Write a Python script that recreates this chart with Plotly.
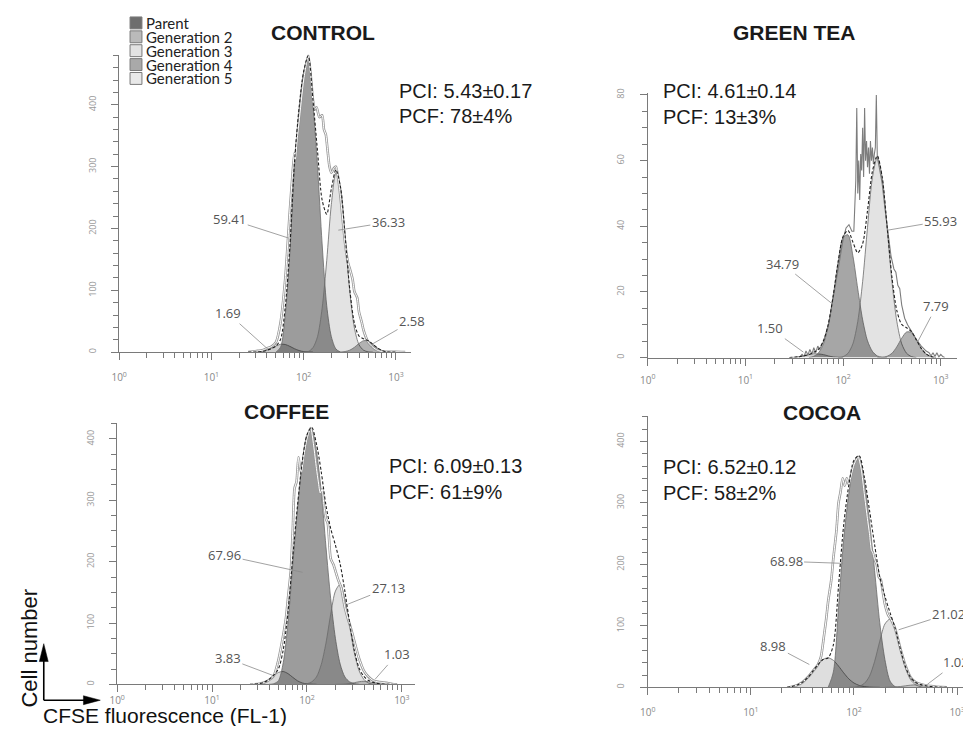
import plotly.graph_objects as go

# ---------------- data ----------------
# shared FL-1 channel grid for the fitted generation peaks
FL1 = [22.4, 25.1, 28.2, 31.6, 35.5, 39.8, 44.7, 50.1, 56.2, 63.1, 70.8, 79.4,
       89.1, 100, 112.2, 125.9, 141.3, 158.5, 177.8, 199.5, 223.9, 251.2, 281.8,
       316.2, 354.8, 398.1, 446.7, 501.2, 562.3, 631.0, 707.9, 794.3, 891.3, 1000, 1122]

PANEL_TITLES = ["CONTROL", "GREEN TEA", "COFFEE", "COCOA"]
PCI_TEXT = ["PCI: 5.43±0.17", "PCI: 4.61±0.14", "PCI: 6.09±0.13", "PCI: 6.52±0.12"]
PCF_TEXT = ["PCF: 78±4%", "PCF: 13±3%", "PCF: 61±9%", "PCF: 58±2%"]
LEGEND_NAMES = ["Parent", "Generation 2", "Generation 3", "Generation 4", "Generation 5"]
X_TICK_VALUES = [1, 10, 100, 1000]
X_TICK_LABELS = ["10<sup>0</sup>", "10<sup>1</sup>", "10<sup>2</sup>", "10<sup>3</sup>"]

# CONTROL
ctrl_pct = ["1.69", "59.41", "36.33", "2.58"]
ctrl_peak_1 = [0, 0, 0.1, 0.3, 1.2, 3, 6, 10, 12.7, 12.4, 9.4, 5.6, 2.6, 0.9, 0.3,
               0, 0, 0, 0, 0, 0, 0, 0, 0, 0, 0, 0, 0, 0, 0, 0, 0, 0, 0, 0]
ctrl_peak_2 = [0, 0, 0, 0, 0, 0, 0, 0, 8, 60, 160, 300, 392, 453, 478, 402, 300, 175,
               75, 25, 5, 0, 0, 0, 0, 0, 0, 0, 0, 0, 0, 0, 0, 0, 0]
ctrl_peak_3 = [0, 0, 0, 0, 0, 0, 0, 0, 0, 0, 0, 0, 0, 0, 1, 7, 25, 71, 148, 239, 290,
               266, 186, 98, 39, 12, 3, 0.5, 0, 0, 0, 0, 0, 0, 0]
ctrl_peak_4 = [0, 0, 0, 0, 0, 0, 0, 0, 0, 0, 0, 0, 0, 0, 0, 0, 0, 0, 0, 0, 0, 0.2, 1,
               3.2, 7.8, 14, 18.5, 18, 12.8, 6.7, 2.6, 0.7, 0.1, 0, 0]
ctrl_raw_x = [25.1, 28.2, 31.6, 35.5, 39.8, 44.7, 50.1, 56.2, 63.1, 70.8, 75.9, 79.4,
              81.3, 85.1, 89.1, 100, 112.2, 120.2, 125.9, 131.8, 138.0, 147.9, 158.5,
              166.0, 173.8, 182.0, 190.5, 199.5, 213.8, 223.9, 239.9, 251.2, 281.8,
              302.0, 316.2, 338.8, 354.8, 380.2, 398.1, 426.6, 446.7, 501.2, 562.3,
              631.0, 707.9, 794.3, 1000, 1259]
ctrl_raw_y = [0, 1, 2, 3, 6, 9, 16, 48, 118, 228, 290, 322, 312, 345, 372, 440, 480,
              442, 408, 392, 396, 380, 383, 360, 352, 325, 300, 290, 298, 300, 275,
              250, 175, 145, 135, 118, 98, 88, 65, 48, 35, 16, 8, 3, 1, 0.5, 0.5, 0]

# GREEN TEA
tea_pct = ["1.50", "34.79", "55.93", "7.79"]
tea_peak_1 = [0, 0, 0, 0.1, 0.3, 0.6, 0.9, 1.2, 1.1, 0.9, 0.5, 0.2, 0.1,
              0, 0, 0, 0, 0, 0, 0, 0, 0, 0, 0, 0, 0, 0, 0, 0, 0, 0, 0, 0, 0, 0]
tea_peak_2 = [0, 0, 0, 0, 0, 0, 0, 0.4, 1.5, 4.3, 9.9, 18.9, 29.2, 36.6, 37.4, 31,
              20.9, 11.5, 5.1, 1.9, 0.5, 0.1, 0, 0, 0, 0, 0, 0, 0, 0, 0, 0, 0, 0, 0]
tea_peak_3 = [0, 0, 0, 0, 0, 0, 0, 0, 0, 0, 0, 0, 0, 0.3, 1.3, 4.2, 11, 23.2, 39.7,
              54.8, 61, 54.8, 39.7, 23.2, 11, 4.2, 1.3, 0.3, 0, 0, 0, 0, 0, 0, 0]
tea_peak_4 = [0, 0, 0, 0, 0, 0, 0, 0, 0, 0, 0, 0, 0, 0, 0, 0, 0, 0, 0, 0, 0, 0.1,
              0.4, 1.3, 3.3, 5.9, 7.8, 7.6, 5.4, 2.8, 1.1, 0.3, 0, 0, 0]
tea_raw_x = [35.5, 38.0, 39.8, 41.7, 43.7, 45.7, 47.9, 50.1, 52.5, 55.0, 57.5, 60.3,
             63.1, 70.8, 79.4, 89.1, 100, 107.2, 114.8, 123.0, 128.8, 131.8, 134.9,
             138.0, 141.3, 144.5, 147.9, 151.4, 154.9, 158.5, 162.2, 166.0, 169.8,
             173.8, 177.8, 182.0, 186.2, 190.5, 195.0, 199.5, 204.2, 208.9, 213.8,
             218.8, 223.9, 234.4, 251.2, 269.2, 288.4, 309.0, 331.1, 346.7, 363.1,
             380.2, 398.1, 426.6, 457.1, 501.2, 562.3, 631.0, 707.9, 758.6, 794.3,
             831.8, 871.0, 912.0, 955.0, 1000, 1047, 1096]
tea_raw_y = [0, 1, 0.3, 2, 0.8, 2.5, 1, 3, 1.5, 3.5, 2.5, 4, 5, 10, 18, 27, 36, 39.5,
             40.5, 38.5, 38.5, 45, 54, 76, 50, 60, 48, 62, 57, 70, 55, 76, 60, 66, 58,
             64, 56, 66, 60, 64, 59, 62, 64, 80, 61, 58, 53, 45, 37, 31, 27, 26, 22,
             21, 16, 12, 10, 8, 5.5, 3.5, 2, 1.5, 0.5, 1.5, 0.3, 1.5, 0.2, 1, 0.3, 0]

# COFFEE
cof_pct = ["3.83", "67.96", "27.13", "1.03"]
cof_peak_1 = [0, 0, 0.3, 1.2, 3.4, 7.9, 14, 19.4, 20.9, 17.5, 11.5, 5.8, 2.3, 0.7, 0.2,
              0, 0, 0, 0, 0, 0, 0, 0, 0, 0, 0, 0, 0, 0, 0, 0, 0, 0, 0, 0]
cof_peak_2 = [0, 0, 0, 0, 0, 0, 1, 6, 35, 100, 195, 285, 360, 405, 415, 380, 315, 225,
              140, 75, 33, 12, 4, 1, 0, 0, 0, 0, 0, 0, 0, 0, 0, 0, 0]
cof_peak_3 = [0, 0, 0, 0, 0, 0, 0, 0, 0, 0, 0, 0, 0, 1, 4, 12, 32, 67, 114, 152, 163,
              139, 95, 51, 22, 8, 2, 0.5, 0, 0, 0, 0, 0, 0, 0]
cof_peak_4 = [0, 0, 0, 0, 0, 0, 0, 0, 0, 0, 0, 0, 0, 0, 0, 0, 0, 0, 0, 0, 0.1, 0.4,
              1.2, 2.7, 4.3, 5, 4.3, 2.7, 1.2, 0.4, 0.1, 0, 0, 0, 0]
cof_raw_x = [28.2, 31.6, 35.5, 39.8, 44.7, 50.1, 56.2, 60.3, 63.1, 67.6, 70.8, 74.1,
             77.6, 81.3, 83.2, 87.1, 93.3, 100, 109.6, 117.5, 125.9, 131.8, 138.0,
             144.5, 151.4, 158.5, 166.0, 177.8, 190.5, 199.5, 213.8, 229.1, 251.2,
             269.2, 281.8, 302.0, 316.2, 354.8, 398.1, 446.7, 501.2, 562.3, 631.0,
             707.9, 794.3, 891.3]
cof_raw_y = [0, 1, 3, 7, 14, 40, 80, 110, 140, 185, 250, 320, 330, 370, 360, 345, 375,
             400, 418, 390, 352, 330, 312, 318, 290, 270, 262, 205, 195, 185, 170, 158,
             125, 108, 98, 82, 70, 42, 22, 12, 6, 4, 3, 2, 0.5, 0]

# COCOA
coc_pct = ["8.98", "68.98", "21.02", "1.02"]
coc_peak_1 = [0, 1.4, 3.6, 8.1, 15.6, 25.8, 36.8, 45.2, 48, 43.9, 34.6, 23.6, 13.8, 7,
              3.1, 1.2, 0.4, 0.1, 0, 0, 0, 0, 0, 0, 0, 0, 0, 0, 0, 0, 0, 0, 0, 0, 0]
coc_peak_2 = [0, 0, 0, 0, 0, 0, 0, 0, 0, 25, 130, 240, 315, 362, 372, 335, 270, 190,
              105, 45, 10, 1, 0, 0, 0, 0, 0, 0, 0, 0, 0, 0, 0, 0, 0]
coc_peak_3 = [0, 0, 0, 0, 0, 0, 0, 0, 0, 0, 0, 0, 0, 0.3, 1.7, 6.3, 18, 42, 75, 103,
              111, 94, 61, 31, 12, 3.8, 0.9, 0.2, 0, 0, 0, 0, 0, 0, 0]
coc_peak_4 = [0, 0, 0, 0, 0, 0, 0, 0, 0, 0, 0, 0, 0, 0, 0, 0, 0, 0, 0, 0, 0.2, 0.5,
              1.3, 2.4, 3.5, 4, 3.5, 2.4, 1.3, 0.5, 0.2, 0, 0, 0, 0]
coc_raw_x = [24.0, 25.1, 28.2, 31.6, 35.5, 39.8, 44.7, 47.9, 51.3, 53.7, 56.2, 60.3,
             63.1, 67.6, 70.8, 74.1, 77.6, 81.3, 85.1, 89.1, 95.5, 100, 109.6, 117.5,
             125.9, 134.9, 141.3, 147.9, 151.4, 158.5, 166.0, 173.8, 182.0, 190.5,
             199.5, 213.8, 229.1, 251.2, 281.8, 316.2, 354.8, 398.1, 446.7, 501.2,
             562.3, 631.0, 707.9, 794.3]
coc_raw_y = [0, 1, 3.6, 8, 16, 26, 37, 50, 85, 110, 140, 175, 210, 255, 300, 318, 340,
             328, 340, 330, 350, 362, 375, 355, 315, 275, 250, 222, 220, 208, 200, 180,
             175, 155, 135, 118, 110, 95, 63, 35, 16, 8, 5, 3, 2, 1, 0.5, 0]

# ---------------- layout helpers ----------------
# the page body keeps an 8 px margin, so the figure is sized to fit inside the window
OFF = 8
W, H = 971 - OFF, 734 - 2 * OFF


def px(x):
    return (x - OFF) / W


def py(y):
    return 1 - (y - OFF) / H


panels = [
    dict(peaks=[ctrl_peak_1, ctrl_peak_2, ctrl_peak_3, ctrl_peak_4], pct=ctrl_pct,
         alphas=[0.2, 0.39, 0.11, 0.3], raw_x=ctrl_raw_x, raw_y=ctrl_raw_y, raw_shape="spline",
         hollow=True, xlab_off=9,
         xdom=(112, 406), xmax=3.16, ydom=(50, 350), ymax=481, ymaj=100, ymin=20,
         title_xy=(318, 28), pci_xy=(392, 87), pcf_dy=25,
         lab=[((222, 311), (262, 347)), ((224, 216), (283, 235)),
              ((383, 219), (333, 227)), ((407, 319), (367, 342))]),
    dict(peaks=[tea_peak_1, tea_peak_2, tea_peak_3, tea_peak_4], pct=tea_pct,
         alphas=[0.2, 0.35, 0.11, 0.3], raw_x=tea_raw_x, raw_y=tea_raw_y, raw_shape="linear",
         hollow=False, xlab_off=6,
         xdom=(645, 957), xmax=3.167, ydom=(89, 355.5), ymax=80.5, ymaj=20, ymin=5,
         title_xy=(793, 28), pci_xy=(658, 87), pcf_dy=26,
         lab=[((769, 326), (802, 350)), ((781, 261), (832, 302)),
              ((940, 218), (887, 227)), ((936, 304), (917, 340))]),
    dict(peaks=[cof_peak_1, cof_peak_2, cof_peak_3, cof_peak_4], pct=cof_pct,
         alphas=[0.14, 0.39, 0.12, 0.18], raw_x=cof_raw_x, raw_y=cof_raw_y, raw_shape="spline",
         hollow=True, xlab_off=0,
         xdom=(110, 410), xmax=3.135, ydom=(421.5, 685), ymax=426, ymaj=100, ymin=25,
         title_xy=(281, 410), pci_xy=(382, 465), pcf_dy=26,
         lab=[((222, 659), (267, 676)), ((219, 555), (297, 572)),
              ((383, 588), (343, 604)), ((392, 655), (370, 680))]),
    dict(peaks=[coc_peak_1, coc_peak_2, coc_peak_3, coc_peak_4], pct=coc_pct,
         alphas=[0.13, 0.38, 0.11, 0.13], raw_x=coc_raw_x, raw_y=coc_raw_y, raw_shape="spline",
         hollow=True, xlab_off=9,
         xdom=(645, 970), xmax=3.125, ydom=(414, 688), ymax=442, ymaj=100, ymin=20,
         title_xy=(821, 411), pci_xy=(658, 466), pcf_dy=26,
         lab=[((772, 646), (808, 665)), ((785, 561), (842, 563)),
              ((948, 614), (898, 630)), ((956, 663), (927, 685))]),
]

fig = go.Figure()
layout = dict(width=W, height=H, margin=dict(l=0, r=0, t=0, b=0),
              paper_bgcolor="white", plot_bgcolor="white", showlegend=False,
              font=dict(family="Open Sans, Arial", color="#333"))
annotations = []
shapes = []

minor_x = [m * d for d in (1, 10, 100) for m in range(2, 10)] + [2000]

for i, p in enumerate(panels):
    n = "" if i == 0 else str(i + 1)
    xa, ya = "x" + n, "y" + n

    def trim(vals):
        nz = [k for k, v in enumerate(vals) if v > 0]
        a, b = max(nz[0] - 1, 0), min(nz[-1] + 1, len(vals) - 1)
        return FL1[a:b + 1], vals[a:b + 1]

    # fitted generation peaks
    for pk, a, name in zip(p["peaks"], p["alphas"], p["pct"]):
        xs, ys = trim(pk)
        fig.add_trace(go.Scatter(x=xs, y=ys, mode="lines", fill="tozeroy",
                                 fillcolor=f"rgba(0,0,0,{a})", name=name,
                                 line=dict(color="#6a6a6a", width=0.8, shape="spline", smoothing=0.8),
                                 xaxis=xa, yaxis=ya, hoverinfo="skip"))
    # raw histogram
    if p["hollow"]:
        fig.add_trace(go.Scatter(x=p["raw_x"], y=p["raw_y"], mode="lines",
                                 line=dict(color="#979797", width=2.6, shape=p["raw_shape"], smoothing=0.6),
                                 xaxis=xa, yaxis=ya, hoverinfo="skip"))
        fig.add_trace(go.Scatter(x=p["raw_x"], y=p["raw_y"], mode="lines",
                                 line=dict(color="white", width=1.0, shape=p["raw_shape"], smoothing=0.6),
                                 xaxis=xa, yaxis=ya, hoverinfo="skip"))
    else:
        fig.add_trace(go.Scatter(x=p["raw_x"], y=p["raw_y"], mode="lines",
                                 line=dict(color="#7d7d7d", width=1.1, shape=p["raw_shape"]),
                                 xaxis=xa, yaxis=ya, hoverinfo="skip"))
    # model sum (dashed)
    total = [sum(v) for v in zip(*p["peaks"])]
    xs, ys = trim(total)
    fig.add_trace(go.Scatter(x=xs, y=ys, mode="lines",
                             line=dict(color="#222", width=1.1, dash="3px,2px", shape="spline", smoothing=0.8),
                             xaxis=xa, yaxis=ya, hoverinfo="skip"))

    layout["xaxis" + n] = dict(
        type="log", range=[0, p["xmax"]], domain=[px(p["xdom"][0]), px(p["xdom"][1])],
        anchor=ya, showgrid=False, zeroline=False, showline=True, linecolor="#7a7a7a", linewidth=1,
        tickmode="array", tickvals=X_TICK_VALUES, ticktext=X_TICK_LABELS,
        ticks="outside", ticklen=7, tickcolor="#7a7a7a", tickwidth=1,
        tickfont=dict(size=10, color="#888", family="Open Sans"), ticklabelstandoff=p["xlab_off"],
        minor=dict(tickmode="array", tickvals=minor_x, ticks="outside", ticklen=5,
                   tickcolor="#7a7a7a", tickwidth=1, showgrid=False),
        fixedrange=True)
    layout["yaxis" + n] = dict(
        range=[0, p["ymax"]], domain=[py(p["ydom"][1]), py(p["ydom"][0])],
        anchor=xa, showgrid=False, zeroline=False, showline=True, linecolor="#7a7a7a", linewidth=1,
        tick0=0, dtick=p["ymaj"], ticks="outside", ticklen=7, tickcolor="#7a7a7a", tickwidth=1,
        tickangle=-90, tickfont=dict(size=9, color="#999", family="Open Sans"), ticklabelstandoff=12,
        minor=dict(tick0=0, dtick=p["ymin"], ticks="outside", ticklen=5, tickcolor="#7a7a7a",
                   tickwidth=1, showgrid=False),
        fixedrange=True)

    # panel title
    tx, ty = p["title_xy"]
    annotations.append(dict(text=f"<b>{PANEL_TITLES[i]}</b>", x=px(tx), y=py(ty), xref="paper", yref="paper",
                            showarrow=False, xanchor="center", yanchor="middle",
                            font=dict(family="Arial, Liberation Sans", size=21, color="#1a1a1a")))
    # PCI / PCF
    qx, qy = p["pci_xy"]
    annotations.append(dict(text=PCI_TEXT[i], x=px(qx), y=py(qy), xref="paper", yref="paper",
                            showarrow=False, xanchor="left", yanchor="middle",
                            font=dict(family="Arial, Liberation Sans", size=20, color="#1a1a1a")))
    annotations.append(dict(text=PCF_TEXT[i], x=px(qx), y=py(qy + p["pcf_dy"]), xref="paper", yref="paper",
                            showarrow=False, xanchor="left", yanchor="middle",
                            font=dict(family="Arial, Liberation Sans", size=20, color="#1a1a1a")))
    # percentage labels with leader lines
    for txt, ((lx, ly), (tx2, ty2)) in zip(p["pct"], p["lab"]):
        annotations.append(dict(text=txt, x=px(tx2), y=py(ty2), xref="paper", yref="paper",
                                ax=lx - tx2, ay=ly - ty2, showarrow=True, arrowhead=0,
                                arrowwidth=0.8, arrowcolor="#8a8a8a", standoff=0, startstandoff=0,
                                font=dict(family="Open Sans", size=13, color="#555")))

# legend (top-left, drawn as boxes + text)
leg_colors = ["#6e6e6e", "#bababa", "#e2e2e2", "#a9a9a9", "#e8e8e8"]
for k, (name, col) in enumerate(zip(LEGEND_NAMES, leg_colors)):
    cy = 18 + 14 * k
    shapes.append(dict(type="rect", xref="paper", yref="paper", x0=px(123), x1=px(135),
                       y0=py(cy + 6), y1=py(cy - 6), fillcolor=col, line=dict(color="#7a7a7a", width=1)))
    annotations.append(dict(text=name, x=px(137), y=py(cy), xref="paper", yref="paper",
                            showarrow=False, xanchor="left", yanchor="middle",
                            font=dict(family="Lato", size=15, color="#222")))

# axis description with arrows (bottom-left)
annotations.append(dict(text="Cell number", x=px(22), y=py(648), xref="paper", yref="paper",
                        showarrow=False, textangle=-90, xanchor="center", yanchor="middle",
                        font=dict(family="Arial, Liberation Sans", size=22, color="#111")))
annotations.append(dict(text="CFSE fluorescence (FL-1)", x=px(33), y=py(716), xref="paper", yref="paper",
                        showarrow=False, xanchor="left", yanchor="middle",
                        font=dict(family="Arial, Liberation Sans", size=21, color="#111")))
shapes.append(dict(type="line", xref="paper", yref="paper", x0=px(36), y0=py(701), x1=px(36), y1=py(658),
                   line=dict(color="black", width=1.6)))
shapes.append(dict(type="path", xref="paper", yref="paper",
                   path=f"M {px(36)} {py(644)} L {px(31.5)} {py(662)} L {px(40.5)} {py(662)} Z",
                   fillcolor="black", line=dict(color="black", width=0.5)))
shapes.append(dict(type="line", xref="paper", yref="paper", x0=px(36), y0=py(701), x1=px(80), y1=py(701),
                   line=dict(color="black", width=1.6)))
shapes.append(dict(type="path", xref="paper", yref="paper",
                   path=f"M {px(93)} {py(701)} L {px(76)} {py(696.5)} L {px(76)} {py(705.5)} Z",
                   fillcolor="black", line=dict(color="black", width=0.5)))

layout["annotations"] = annotations
layout["shapes"] = shapes
fig.update_layout(**layout)
fig.write_html("out.html")
